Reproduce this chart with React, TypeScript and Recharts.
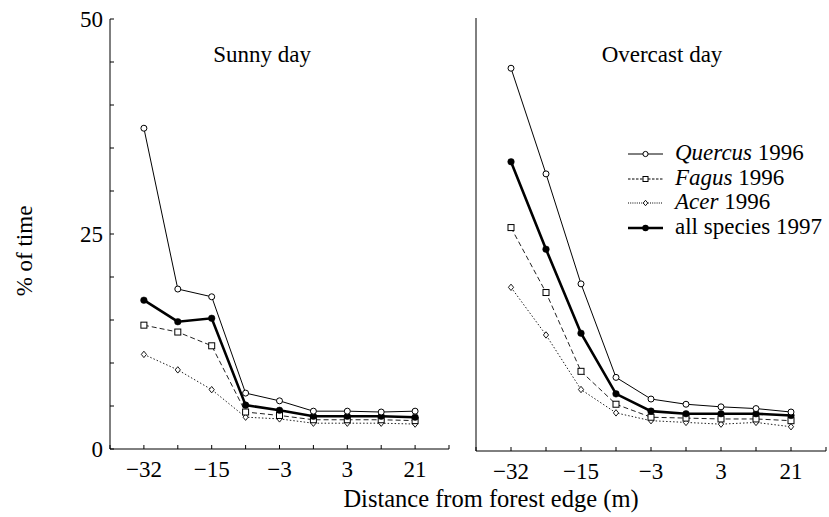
import { LineChart, Line, XAxis, YAxis, Legend } from "recharts";

const FONT = '"Liberation Serif", "DejaVu Serif", serif';

// distance from forest edge (m); only every other tick is labelled in the figure
const distanceLabels = ["\u221232", "", "\u221215", "", "\u22123", "", "3", "", "21"];

// Sunny day
const quercusSunny = [37.3, 18.6, 17.7, 6.5, 5.6, 4.4, 4.4, 4.3, 4.4];
const fagusSunny = [14.4, 13.6, 12.0, 4.3, 3.9, 3.4, 3.4, 3.4, 3.3];
const acerSunny = [11.0, 9.2, 6.9, 3.7, 3.5, 3.0, 3.0, 3.0, 2.9];
const allSunny = [17.3, 14.8, 15.2, 5.1, 4.5, 3.8, 3.8, 3.8, 3.7];

// Overcast day
const quercusOvercast = [44.2, 32.0, 19.3, 8.5, 6.0, 5.4, 5.1, 4.9, 4.5];
const fagusOvercast = [25.8, 18.3, 9.2, 5.4, 3.9, 3.8, 3.7, 3.7, 3.5];
const acerOvercast = [18.9, 13.4, 7.1, 4.4, 3.5, 3.3, 3.1, 3.3, 2.8];
const allOvercast = [33.4, 23.3, 13.6, 6.6, 4.6, 4.3, 4.3, 4.3, 4.1];

const seriesNames = ["Quercus", "Fagus", "Acer", "all species"];
const seriesYears = ["1996", "1996", "1996", "1997"];

const buildRows = (q: number[], f: number[], a: number[], all: number[]) =>
  distanceLabels.map((label, i) => ({
    pos: i + 1,
    label,
    quercus: q[i],
    fagus: f[i],
    acer: a[i],
    all: all[i],
  }));

const sunnyData = buildRows(quercusSunny, fagusSunny, acerSunny, allSunny);
const overcastData = buildRows(quercusOvercast, fagusOvercast, acerOvercast, allOvercast);

const xTicks = [0, 1, 2, 3, 4, 5, 6, 7, 8, 9, 10];
const formatX = (v: number) => distanceLabels[v - 1] ?? "";

// markers
const openCircle = (p: any) => (
  <circle key={`q${p.index}`} cx={p.cx} cy={p.cy} r={3} fill="#fff" stroke="#000" strokeWidth={1} />
);
const filledCircle = (p: any) => (
  <circle key={`a${p.index}`} cx={p.cx} cy={p.cy} r={3.3} fill="#000" stroke="#000" strokeWidth={0.5} />
);
const openSquare = (p: any) => (
  <rect key={`f${p.index}`} x={p.cx - 3} y={p.cy - 3} width={6} height={6} fill="#fff" stroke="#000" strokeWidth={1} />
);
const openDiamond = (p: any) => (
  <path
    key={`d${p.index}`}
    d={`M${p.cx},${p.cy - 3.2} L${p.cx + 2.6},${p.cy} L${p.cx},${p.cy + 3.2} L${p.cx - 2.6},${p.cy} Z`}
    fill="#fff"
    stroke="#000"
    strokeWidth={0.9}
  />
);

const tickStyle = { fill: "#000", fontSize: 23, fontFamily: FONT };

function Series() {
  return [
    <Line key="acer" dataKey="acer" stroke="#222" strokeWidth={1} strokeDasharray="1.5 2" dot={openDiamond} isAnimationActive={false} legendType="none" />,
    <Line key="fagus" dataKey="fagus" stroke="#222" strokeWidth={1} strokeDasharray="5 3" dot={openSquare} isAnimationActive={false} />,
    <Line key="all" dataKey="all" stroke="#000" strokeWidth={2.6} dot={filledCircle} isAnimationActive={false} />,
    <Line key="quercus" dataKey="quercus" stroke="#000" strokeWidth={1} dot={openCircle} isAnimationActive={false} />,
  ];
}

const legendSymbols = [
  { dash: undefined, width: 1, marker: "circle" },
  { dash: "2.5 1.5", width: 1, marker: "square" },
  { dash: "1 1.2", width: 1, marker: "diamond" },
  { dash: undefined, width: 2.6, marker: "filled" },
];

const renderLegend = () => (
  <div style={{ fontFamily: FONT, fontSize: 23, color: "#000" }}>
    {seriesNames.map((name, i) => {
      const s = legendSymbols[i];
      return (
        <div key={name} style={{ display: "flex", alignItems: "center", height: 24.6, whiteSpace: "nowrap" }}>
          <svg width={47} height={20} style={{ flex: "none" }}>
            <line x1={0} x2={35} y1={11} y2={11} stroke="#000" strokeWidth={s.width} strokeDasharray={s.dash} />
            {s.marker === "circle" && <circle cx={17.5} cy={11} r={2.6} fill="#fff" stroke="#000" />}
            {s.marker === "square" && <rect x={15} y={8.5} width={5} height={5} fill="#fff" stroke="#000" />}
            {s.marker === "diamond" && (
              <path d="M17.5,8.3 L19.8,11 L17.5,13.7 L15.2,11 Z" fill="#fff" stroke="#000" strokeWidth={0.9} />
            )}
            {s.marker === "filled" && <circle cx={17.5} cy={11} r={3.2} fill="#000" />}
          </svg>
          <span>
            {i < 3 ? <i>{name}</i> : name} {seriesYears[i]}
          </span>
        </div>
      );
    })}
  </div>
);

export default function App() {
  return (
    <div style={{ position: "absolute", left: 0, top: 0, width: 829, height: 517, background: "#fff" }}>
      <div style={{ position: "absolute", left: 0, top: 0 }}>
        <LineChart width={460} height={517} data={sunnyData} margin={{ top: 19, right: 11, left: 60, bottom: 28 }}>
          <XAxis
            type="number"
            dataKey="pos"
            domain={[0, 10]}
            ticks={xTicks}
            tickFormatter={formatX}
            interval={0}
            height={40}
            tickSize={-4}
            tickMargin={16}
            axisLine={{ stroke: "#000" }}
            tickLine={{ stroke: "#000" }}
            tick={tickStyle}
          />
          <YAxis
            domain={[0, 50]}
            ticks={[0, 5, 10, 15, 20, 25, 30, 35, 40, 45, 50]}
            tickFormatter={(v: number) => (v % 25 === 0 ? String(v) : "")}
            interval={0}
            width={50}
            tickSize={-4}
            tickMargin={11}
            axisLine={{ stroke: "#000" }}
            tickLine={{ stroke: "#000" }}
            tick={tickStyle}
          />
          {Series()}
        </LineChart>
      </div>
      <div style={{ position: "absolute", left: 416, top: 0 }}>
        <LineChart width={413} height={517} data={overcastData} margin={{ top: 18, right: 3, left: 0, bottom: 26 }}>
          <XAxis
            type="number"
            dataKey="pos"
            domain={[0, 10]}
            ticks={xTicks}
            tickFormatter={formatX}
            interval={0}
            height={40}
            tickSize={-4}
            tickMargin={16}
            axisLine={{ stroke: "#000" }}
            tickLine={{ stroke: "#000" }}
            tick={tickStyle}
          />
          <YAxis
            domain={[0, 50]}
            ticks={[0, 10, 20, 30, 40]}
            interval={0}
            width={60}
            tickSize={-4}
            tick={false}
            axisLine={{ stroke: "#000" }}
            tickLine={{ stroke: "#000" }}
          />
          <Legend
            layout="horizontal"
            verticalAlign="middle"
            align="center"
            content={renderLegend}
            wrapperStyle={{ position: "absolute", left: 212, top: 141, width: 210 }}
          />
          {Series()}
        </LineChart>
      </div>
      <svg
        width={829}
        height={517}
        style={{ position: "absolute", left: 0, top: 0, pointerEvents: "none" }}
        fontFamily={FONT}
        fontSize={23}
      >
        <text x={262} y={62} textAnchor="middle">Sunny day</text>
        <text x={662} y={62} textAnchor="middle">Overcast day</text>
        <text x={32} y={251} textAnchor="middle" transform="rotate(-90, 32, 251)">% of time</text>
        <text x={491} y={507} textAnchor="middle" fontSize={24.5}>Distance from forest edge (m)</text>
      </svg>
    </div>
  );
}
